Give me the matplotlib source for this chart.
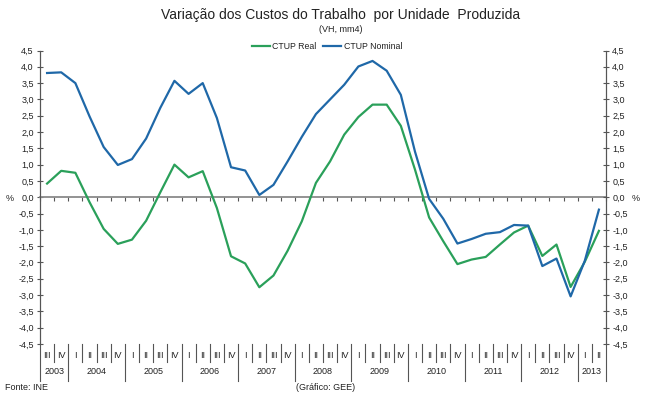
import matplotlib
matplotlib.use("Agg")
import matplotlib.pyplot as plt
from matplotlib.lines import Line2D
import matplotlib.transforms as mtransforms

plt.rcParams['font.family'] = ['Liberation Sans', 'DejaVu Sans']

years = ["2003", "2004", "2005", "2006", "2007", "2008", "2009", "2010", "2011", "2012", "2013"]
quarters_per_year = [2, 4, 4, 4, 4, 4, 4, 4, 4, 4, 2]
quarter_labels = (["III", "IV"] + ["I", "II", "III", "IV"] * 9 + ["I", "II"])

ctup_real = [0.42, 0.81, 0.75, -0.15, -0.97, -1.43, -1.30, -0.72, 0.15, 1.00,
             0.61, 0.80, -0.33, -1.81, -2.03, -2.76, -2.40, -1.64, -0.74, 0.44,
             1.10, 1.92, 2.46, 2.84, 2.84, 2.19, 0.85, -0.62, -1.35, -2.05,
             -1.91, -1.83, -1.45, -1.08, -0.87, -1.80, -1.45, -2.75, -1.98, -1.03]
ctup_nominal = [3.81, 3.83, 3.50, 2.48, 1.54, 0.99, 1.17, 1.80, 2.74, 3.57,
                3.17, 3.50, 2.43, 0.92, 0.82, 0.07, 0.38, 1.10, 1.85, 2.55,
                3.00, 3.45, 4.01, 4.18, 3.88, 3.14, 1.40, -0.05, -0.66, -1.42,
                -1.28, -1.12, -1.07, -0.85, -0.87, -2.11, -1.88, -3.04, -1.95, -0.38]

green = '#2aa05a'
blue = '#1f68a8'
txt = '#222222'
W, H = 646, 398
fig = plt.figure(figsize=(W / 100, H / 100), dpi=100)
left, right, top, bottom = 40, 606, 50.5, 344
ax = fig.add_axes([left / W, 1 - bottom / H, (right - left) / W, (bottom - top) / H])
ax2 = ax.twinx()

n = len(ctup_real)
x = list(range(n))
ax.plot(x, ctup_real, color=green, lw=1.6, label='CTUP Real', zorder=3)
ax.plot(x, ctup_nominal, color=blue, lw=1.6, label='CTUP Nominal', zorder=3)

ax.set_xlim(-0.5, n - 0.5)
for a in (ax, ax2):
    a.set_ylim(-4.5, 4.5)
    yt = [i * 0.5 for i in range(-9, 10)]
    a.set_yticks(yt)
    a.set_yticklabels([f"{v:.1f}".replace('.', ',') for v in yt], fontsize=6.5, color=txt)
    a.tick_params(axis='y', direction='inout', length=5, width=0.8, color='#555555', pad=2)
    a.spines['top'].set_visible(False)
    a.spines['left'].set_color('#555555')
    a.spines['right'].set_color('#555555')
    a.spines['bottom'].set_visible(False)

# zero category axis
ax.spines['bottom'].set_visible(True)
ax.spines['bottom'].set_position(('data', 0))
ax.spines['bottom'].set_color('#8a8a8a')
ax.spines['bottom'].set_linewidth(1.3)
ax.set_xticks([k - 0.5 for k in range(n + 1)])
ax.set_xticklabels([])
ax.tick_params(axis='x', direction='out', length=3, width=0.8, color='#555555')

# category labels below plot
trans = mtransforms.blended_transform_factory(ax.transData, ax.transAxes)
q_bottom = -(362 - bottom) / (bottom - top)
y_bottom = -(381 - bottom) / (bottom - top)
q_text = -(355 - bottom) / (bottom - top)
y_text = -(372 - bottom) / (bottom - top)
for i, ql in enumerate(quarter_labels):
    ax.text(i, q_text, ql, transform=trans, ha='center', va='center', fontsize=6.5, color=txt)
bounds = [0]
for qn in quarters_per_year:
    bounds.append(bounds[-1] + qn)
year_bounds = set(bounds)
for k in range(n + 1):
    yb = y_bottom if k in year_bounds else q_bottom
    ax.add_line(Line2D([k - 0.5, k - 0.5], [0, yb], transform=trans, color='#555555',
                       lw=0.8, clip_on=False))
for j, yr in enumerate(years):
    c = (bounds[j] + bounds[j + 1]) / 2 - 0.5
    ax.text(c, y_text, yr, transform=trans, ha='center', va='center', fontsize=6.5, color=txt)

# percent labels
fig.text(10 / W, 1 - 198 / H, '%', ha='center', va='center', fontsize=6.5, color=txt)
fig.text(636 / W, 1 - 198 / H, '%', ha='center', va='center', fontsize=6.5, color=txt)

# titles
fig.text(341 / W, 1 - 15 / H, 'Variação dos Custos do Trabalho  por Unidade  Produzida',
         ha='center', va='center', fontsize=10, color=txt)
fig.text(341 / W, 1 - 30 / H, '(VH, mm4)', ha='center', va='center', fontsize=6.5, color=txt)

leg = ax.legend(loc='center', bbox_to_anchor=(327 / W, 1 - 46.5 / H), bbox_transform=fig.transFigure,
                ncol=2, frameon=False, fontsize=6.3, handlelength=2.0, handletextpad=0.3,
                columnspacing=0.8, borderaxespad=0)
for t in leg.get_texts():
    t.set_color(txt)

fig.text(5 / W, 1 - 387 / H, 'Fonte: INE', ha='left', va='center', fontsize=6.5, color=txt)
fig.text(326 / W, 1 - 387 / H, '(Gráfico: GEE)', ha='center', va='center', fontsize=6.5, color=txt)

fig.savefig('out.png', dpi=100, facecolor='white')
